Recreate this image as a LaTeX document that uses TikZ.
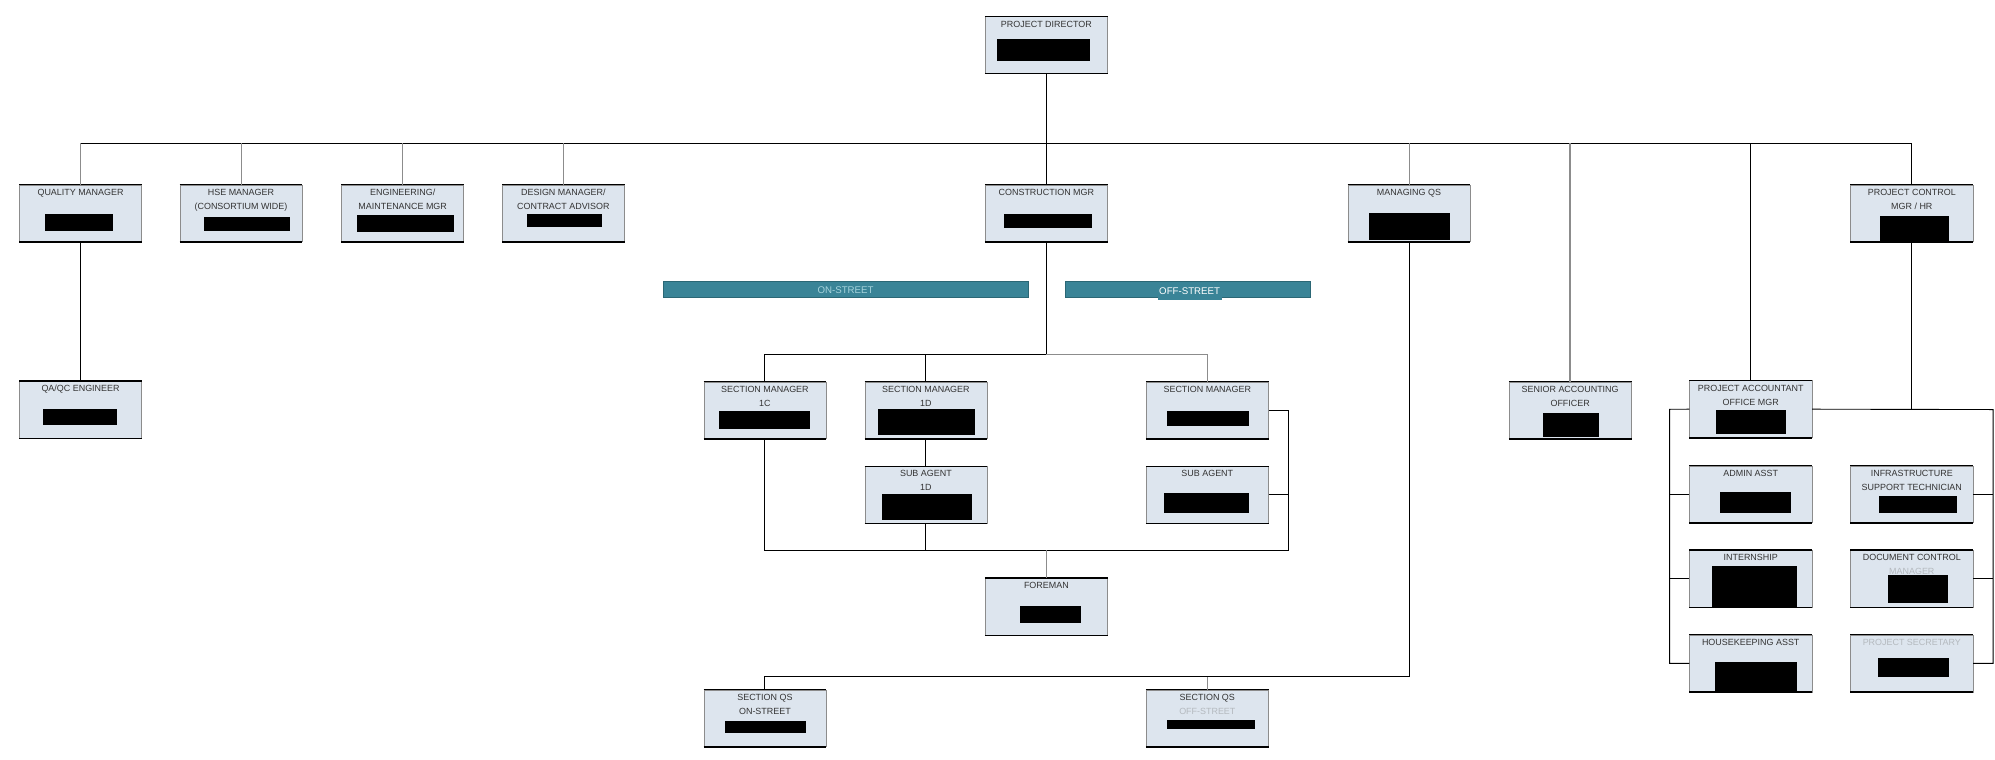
\documentclass[tikz,border=0pt]{standalone}
\usepackage{fontspec}
\setmainfont{Liberation Sans}
\usetikzlibrary{positioning}
\definecolor{boxfill}{HTML}{DDE5EE}
\definecolor{boxside}{HTML}{8C8C8C}
\definecolor{barteal}{HTML}{3A8497}
\definecolor{bardark}{HTML}{2B6775}
\definecolor{fadetxt}{HTML}{B4B9BE}
\definecolor{fadeteal}{HTML}{A6D3DC}
\tikzset{
  post/.style={draw=boxside, fill=boxfill, minimum width=2.88cm, minimum height=1.34cm, inner sep=0pt},
  ttl/.style={font=\fontsize{6}{9.4}\selectfont, text=black!80, align=center, inner sep=0pt},
  bar/.style={draw=bardark, fill=barteal, minimum height=0.38cm, inner sep=0pt, font=\fontsize{6.5}{7}\selectfont},
  link/.style={line width=0.6pt},
  greylink/.style={line width=0.6pt, draw=black!45},
  redact/.style={fill=black}
}
\begin{document}
\begin{tikzpicture}[x=0.03cm, y=-0.03cm]
\useasboundingbox[fill=white] (0,0) rectangle (1568,597);

% boxes
\node[post] (pd) at (822.4,35.4) {};
\node[post] (qm) at (63.3,167.7) {};
\node[post] (hse) at (189.4,167.7) {};
\node[post] (eng) at (316.5,167.7) {};
\node[post] (des) at (442.8,167.7) {};
\node[post] (cm) at (822.4,167.7) {};
\node[post] (mqs) at (1107.4,167.7) {};
\node[post] (pc) at (1502.6,167.7) {};
\node[post] (qa) at (63.3,322) {};
\node[post] (sm1c) at (601.2,322.5) {};
\node[post] (sm1d) at (727.7,322.5) {};
\node[post] (smoff) at (948.9,322.5) {};
\node[post] (sao) at (1234.1,322.5) {};
\node[post] (pa) at (1376,321.6) {};
\node[post] (sa1d) at (727.7,389) {};
\node[post] (saoff) at (948.9,389) {};
\node[post] (admin) at (1376,388.5) {};
\node[post] (infra) at (1502.6,388.5) {};
\node[post] (intern) at (1376,454.8) {};
\node[post] (doc) at (1502.6,454.8) {};
\node[post] (fm) at (822.4,476.8) {};
\node[post] (house) at (1376,521.4) {};
\node[post] (psec) at (1502.6,521.4) {};
\node[post] (qson) at (601.2,564.6) {};
\node[post] (qsoff) at (948.9,564.6) {};

\foreach \n in {pd,qm,hse,eng,des,cm,mqs,pc,qa,sm1c,sm1d,smoff,sao,pa,sa1d,saoff,admin,infra,intern,doc,fm,house,psec,qson,qsoff}
  \draw[line width=0.9pt] (\n.north west) -- (\n.north east) (\n.south west) -- (\n.south east);

% titles
\node[ttl, below=2.8pt] (pd-t) at (pd.north) {PROJECT DIRECTOR};
\node[ttl, below=2.8pt] (qm-t) at (qm.north) {QUALITY MANAGER};
\node[ttl, below=2.8pt] (hse-t) at (hse.north) {HSE MANAGER\\(CONSORTIUM WIDE)};
\node[ttl, below=2.8pt] (eng-t) at (eng.north) {ENGINEERING/\\MAINTENANCE MGR};
\node[ttl, below=2.8pt] (des-t) at (des.north) {DESIGN MANAGER/\\CONTRACT ADVISOR};
\node[ttl, below=2.8pt] (cm-t) at (cm.north) {CONSTRUCTION MGR};
\node[ttl, below=2.8pt] (mqs-t) at (mqs.north) {MANAGING QS};
\node[ttl, below=2.8pt] (pc-t) at (pc.north) {PROJECT CONTROL\\MGR / HR};
\node[ttl, below=2.8pt] (qa-t) at (qa.north) {QA/QC ENGINEER};
\node[ttl, below=2.8pt] (sm1c-t) at (sm1c.north) {SECTION MANAGER\\1C};
\node[ttl, below=2.8pt] (sm1d-t) at (sm1d.north) {SECTION MANAGER\\1D};
\node[ttl, below=2.8pt] (smoff-t) at (smoff.north) {SECTION MANAGER};
\node[ttl, below=2.8pt] (sao-t) at (sao.north) {SENIOR ACCOUNTING\\OFFICER};
\node[ttl, below=2.8pt] (pa-t) at (pa.north) {PROJECT ACCOUNTANT\\OFFICE MGR};
\node[ttl, below=2.8pt] (sa1d-t) at (sa1d.north) {SUB AGENT\\1D};
\node[ttl, below=2.8pt] (saoff-t) at (saoff.north) {SUB AGENT};
\node[ttl, below=2.8pt] (admin-t) at (admin.north) {ADMIN ASST};
\node[ttl, below=2.8pt] (infra-t) at (infra.north) {INFRASTRUCTURE\\SUPPORT TECHNICIAN};
\node[ttl, below=2.8pt] (intern-t) at (intern.north) {INTERNSHIP};
\node[ttl, below=2.8pt] (doc-t) at (doc.north) {DOCUMENT CONTROL\\{\color{fadetxt}MANAGER}};
\node[ttl, below=2.8pt] (fm-t) at (fm.north) {FOREMAN};
\node[ttl, below=2.8pt] (house-t) at (house.north) {HOUSEKEEPING ASST};
\node[ttl, below=2.8pt, text=fadetxt] (psec-t) at (psec.north) {PROJECT SECRETARY};
\node[ttl, below=2.8pt] (qson-t) at (qson.north) {SECTION QS\\ON-STREET};
\node[ttl, below=2.8pt] (qsoff-t) at (qsoff.north) {SECTION QS\\{\color{fadetxt}OFF-STREET}};

% names blacked out
\fill[redact] (783.6,30.9) rectangle (856.8,47.7);
\fill[redact] (35.3,168.5) rectangle (89,181.3);
\fill[redact] (160,170.3) rectangle (228,181.3);
\fill[redact] (280.4,169) rectangle (356.7,182.1);
\fill[redact] (414.1,168.5) rectangle (473.5,178.2);
\fill[redact] (789,168.5) rectangle (858.4,179);
\fill[redact] (1075.7,167.7) rectangle (1139.7,188.6);
\fill[redact] (1477.4,169.8) rectangle (1532.2,190);
\fill[redact] (34.1,321.7) rectangle (91.6,334);
\fill[redact] (565,322.8) rectangle (636.6,337.2);
\fill[redact] (689.8,321.5) rectangle (766.2,341.9);
\fill[redact] (917.2,322.8) rectangle (981.9,334.6);
\fill[redact] (1212.8,324.9) rectangle (1256.8,343.7);
\fill[redact] (1348.8,322.3) rectangle (1403.9,341.1);
\fill[redact] (693.2,388.3) rectangle (763.8,408.7);
\fill[redact] (914.9,387.2) rectangle (981.9,403.5);
\fill[redact] (1351.5,386.5) rectangle (1407.3,403.5);
\fill[redact] (1476.7,389.9) rectangle (1538.2,403.5);
\fill[redact] (1345.4,444.9) rectangle (1412.1,477.1);
\fill[redact] (1483.5,452) rectangle (1530.9,474.2);
\fill[redact] (801.3,476.3) rectangle (850,489.4);
\fill[redact] (1348.1,520.1) rectangle (1412.4,543.7);
\fill[redact] (1475.7,517.5) rectangle (1532.2,532.4);
\fill[redact] (569.5,566.7) rectangle (633.6,576.4);
\fill[redact] (917.2,565.9) rectangle (986.4,573.2);

% street bars
\node[bar, minimum width=8.61cm, text=fadeteal] (onst) at (664.6,227.7) {ON-STREET};
\node[bar, minimum width=5.78cm] (offst) at (933.4,227.7) {};
\node[bar, draw=none, text=white, minimum height=0.43cm, inner xsep=1pt] (offst-t) at (935,228.6) {OFF-STREET};

% connectors
\coordinate (bus) at (822.4,112.7);
\coordinate (split) at (822.4,278.2);
\coordinate (join) at (822.4,432.3);
\coordinate (rb) at (1013,432.3);
\coordinate (qsbus) at (1107.4,531.9);
\coordinate (lb) at (1312.3,321.7);
\coordinate (rr) at (1566.5,321.9);

\draw[link] (pd) -- (cm);
\draw[link] (qm.north |- bus) -- (pc.north |- bus) -- (pc.north);
\draw[greylink] (qm.north) -- (qm.north |- bus);
\draw[greylink] (hse.north) -- (hse.north |- bus);
\draw[greylink] (eng.north) -- (eng.north |- bus);
\draw[greylink] (des.north) -- (des.north |- bus);
\draw[greylink] (mqs.north) -- (mqs.north |- bus);
\draw[greylink, line width=1.1pt] (sao.north) -- (sao.north |- bus);
\draw[link] (pa.north) -- (pa.north |- bus);
\draw[link] (qm) -- (qa);

\draw[link] (cm) -- (split);
\draw[link] (sm1c.north) |- (split);
\draw[link] (sm1d.north) -- (sm1d.north |- split);
\draw[greylink] (split) -| (smoff.north);
\draw[link] (sm1d) -- (sa1d);
\draw[link] (sm1c.south) |- (join);
\draw[link] (sa1d.south) -- (sa1d.south |- join);
\draw[link] (smoff.east) -| (rb) -- (join);
\draw[link] (saoff.east) -- (saoff.east -| rb);
\draw[greylink] (join) -- (fm);

\draw[link] (mqs.south) -- (qsbus) -| (qson.north);
\draw[greylink] (qsoff.north) -- (qsoff.north |- qsbus);

\draw[link] (pa.west) -- (lb) |- (house.west);
\draw[link] (admin.west) -- (admin.west -| lb);
\draw[link] (intern.west) -- (intern.west -| lb);
\draw[link] (pa.east) -- (rr) |- (psec.east);
\draw[link] (pc.south) -- (pc.south |- rr);
\draw[link] (infra.east) -- (infra.east -| rr);
\draw[link] (doc.east) -- (doc.east -| rr);
\end{tikzpicture}
\end{document}
